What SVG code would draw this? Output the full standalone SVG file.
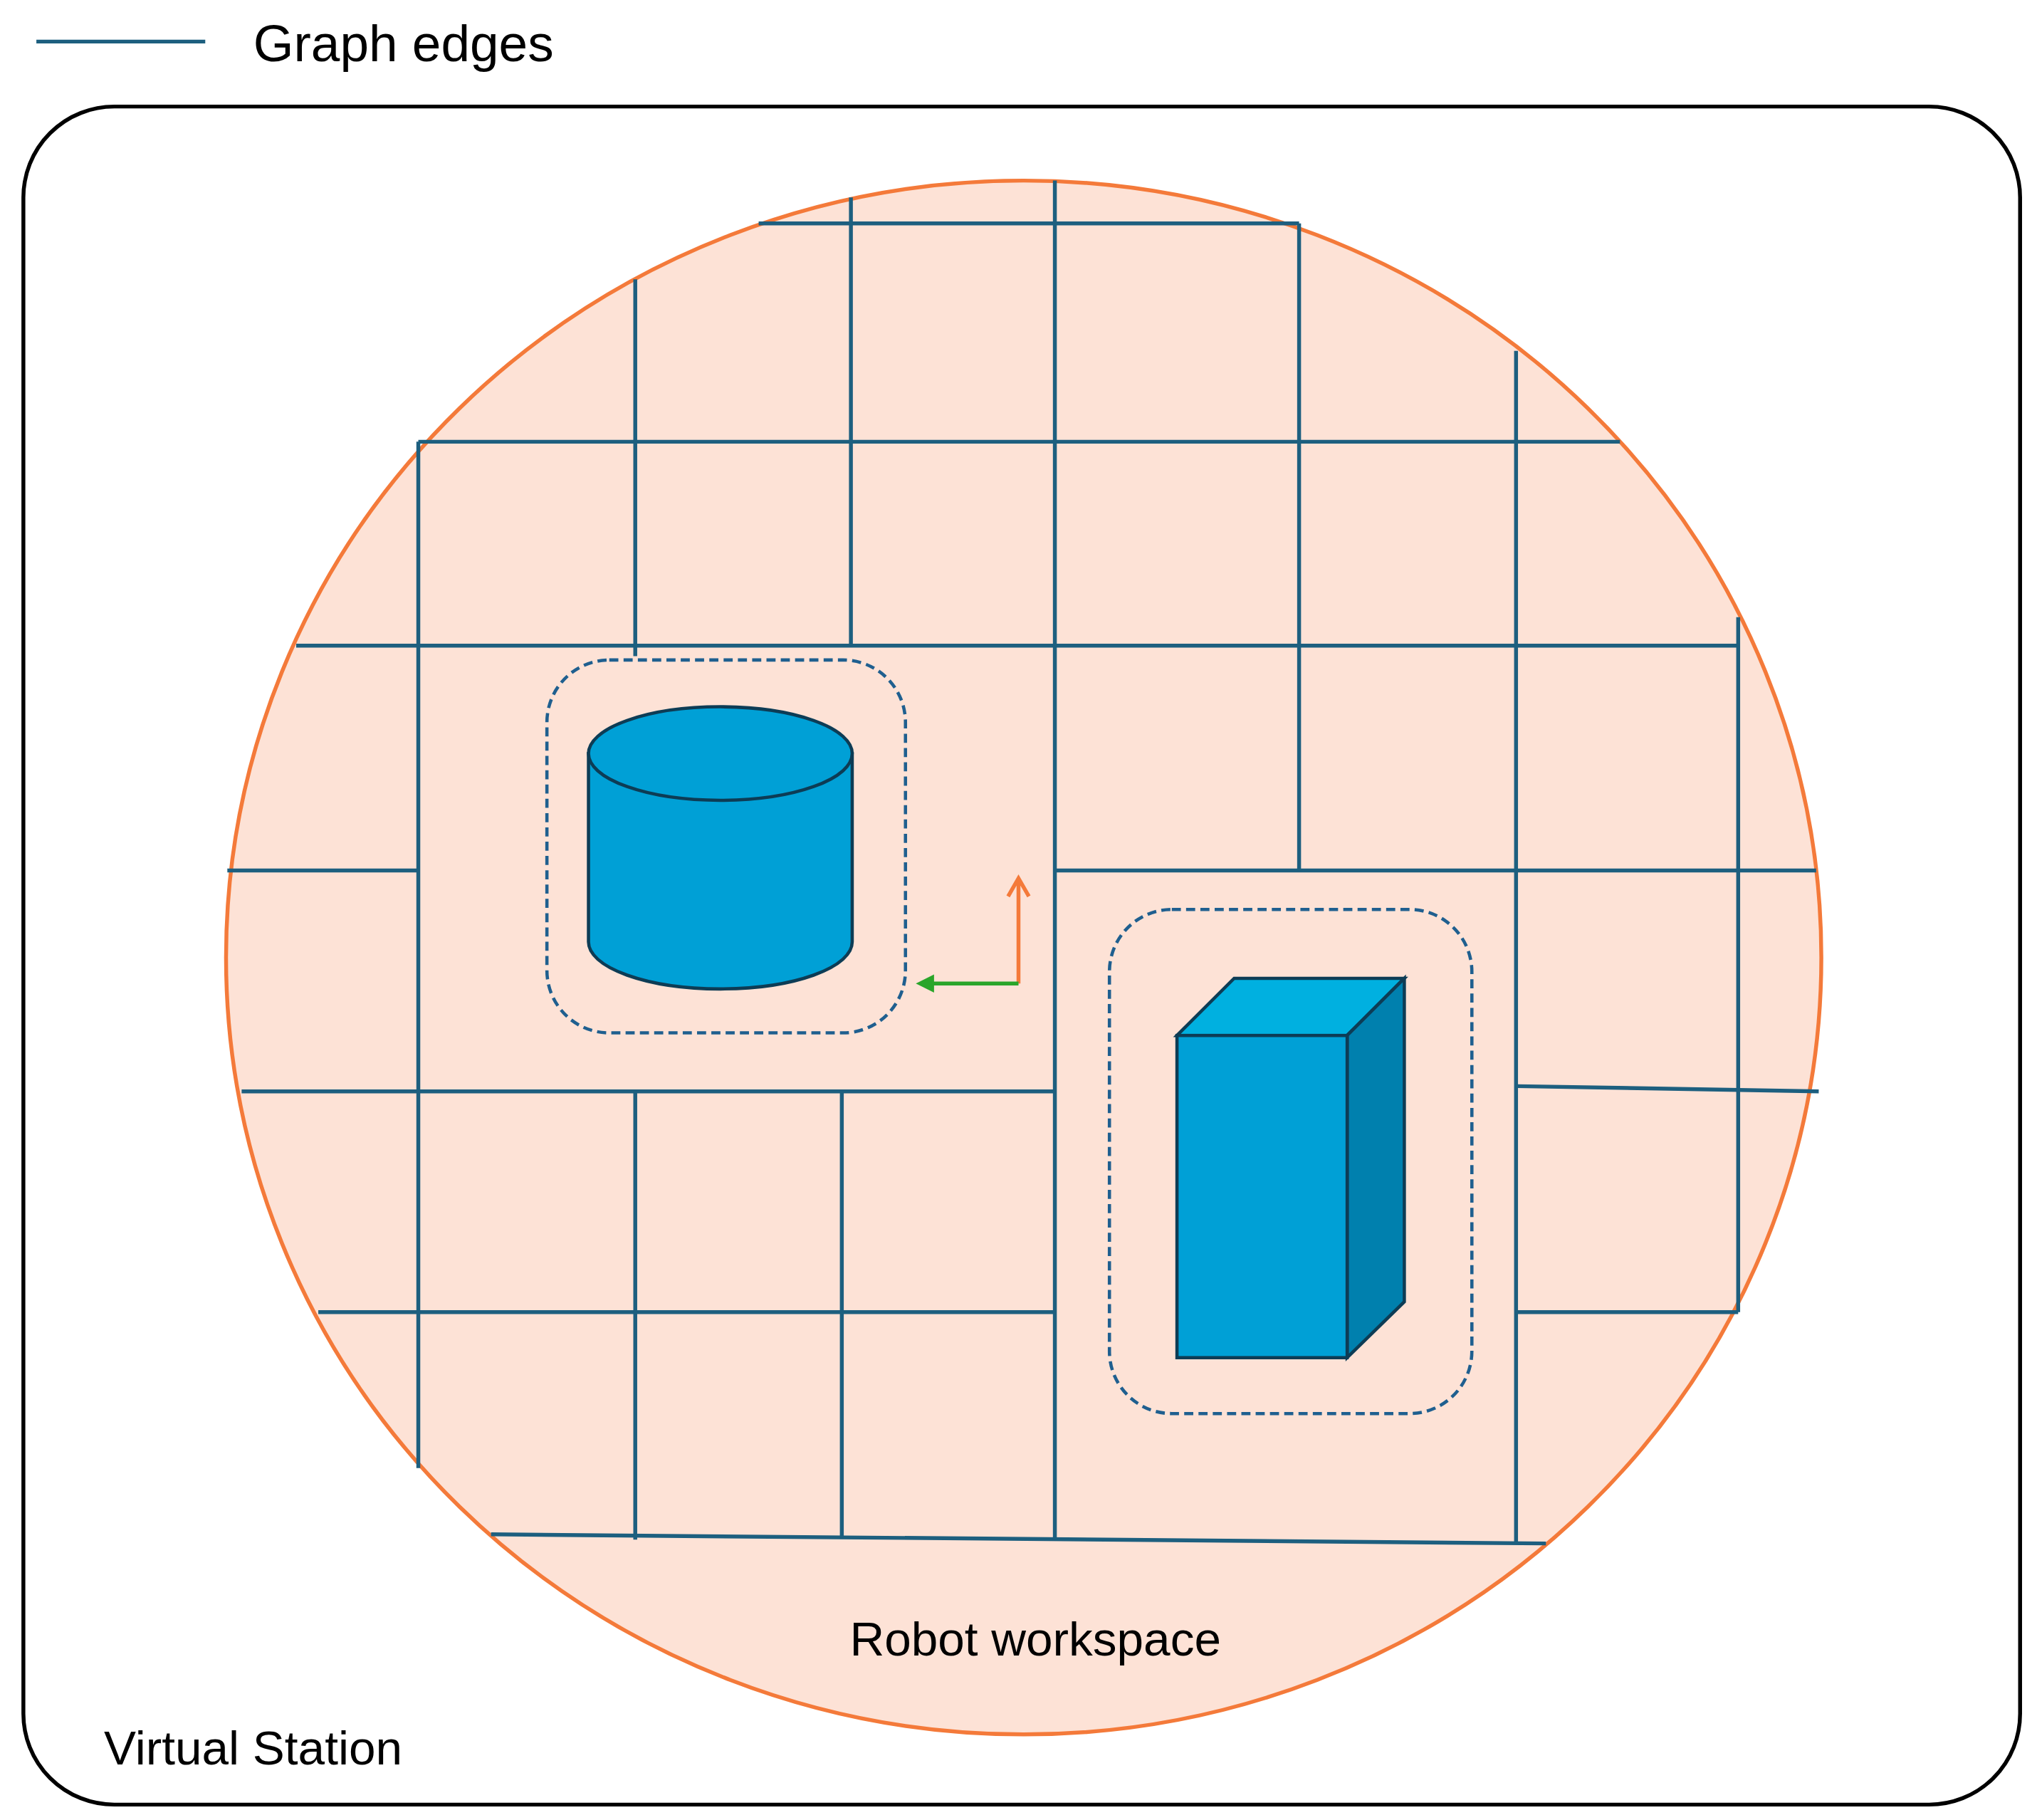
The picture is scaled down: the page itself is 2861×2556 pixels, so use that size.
<svg xmlns="http://www.w3.org/2000/svg" width="2861" height="2556" viewBox="0 0 2861 2556">
<style>
.e{stroke:#1d5f7f;stroke-width:3;fill:none}
.t{font-family:"Liberation Sans",Arial,sans-serif;fill:#000}
.d{fill:none;stroke:#1f5f8f;stroke-width:2.5;stroke-dasharray:7,4}
.o{stroke:#0d3c55;stroke-width:2.5}
</style>
<rect width="2861" height="2556" fill="#fff"/>
<g transform="scale(1.8246)">
<g id="legend"><line class="e" x1="28" y1="32" x2="158" y2="32"/><text class="t" x="195" y="47" font-size="40">Graph edges</text></g>
<g id="station"><rect x="18" y="82" width="1537" height="1307" rx="70" fill="#fff" stroke="#000" stroke-width="3"/><text class="t" x="80" y="1358" font-size="37">Virtual Station</text></g>
<g id="workspace"><ellipse cx="788" cy="737" rx="614" ry="598" fill="#fde2d6" stroke="#f47a3a" stroke-width="3"/><text class="t" x="797" y="1274" font-size="37" text-anchor="middle">Robot workspace</text></g>
<g id="edges">
<path class="e" d="M584 172H1000M322 340H1247M228 497H1338M175 670H322M812 670H1398M186 840H812M1168 836L1400 840M245 1010H812M1168 1010H1338M378 1181L1190 1188"/>
<path class="e" d="M655 152V497M812 139V1185M1000 172V670M489 215V505M489 840V1185M322 340V1130M1167 270V1188M1338 475V1010M648 840V1183"/>
</g>
<g id="cylinder-zone"><rect class="d" x="421" y="508" width="276" height="287" rx="48"/>
<path class="o" d="M453 580V725A101 36 0 0 0 656 725V580Z" fill="#00a0d6"/><ellipse class="o" cx="554.5" cy="580" rx="101.5" ry="36" fill="#00a0d6"/></g>
<g id="box-zone"><rect class="d" x="854" y="700" width="279" height="388" rx="48"/>
<polygon class="o" points="906,797 950,753 1081,753 1037,797" fill="#00b0e0"/>
<polygon class="o" points="1037,797 1081,753 1081,1002 1037,1045" fill="#0080ae"/>
<rect class="o" x="906" y="797" width="131" height="248" fill="#00a0d6"/></g>
<g id="frame"><path d="M784 757V678M776 690L784 676L792 690" stroke="#f47a3a" stroke-width="3" fill="none"/>
<path d="M784 757H715" stroke="#2aa52a" stroke-width="3"/><polygon points="705,757 719,750 719,764" fill="#2aa52a"/></g>
</g>
</svg>
